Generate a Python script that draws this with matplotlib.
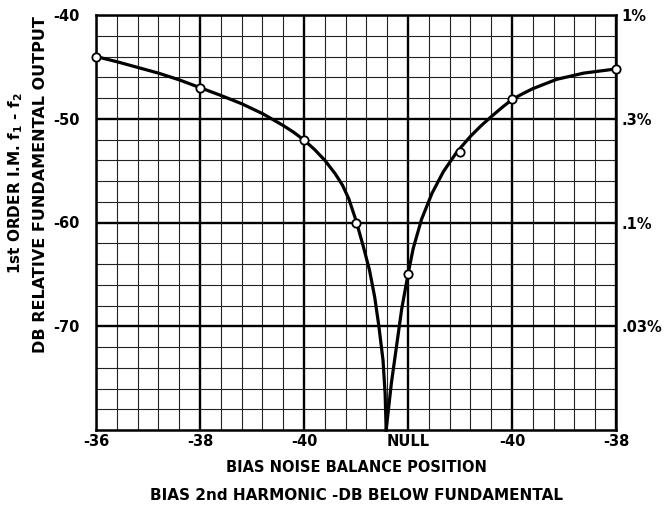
import matplotlib.pyplot as plt
import numpy as np

# x positions: 0..5 correspond to the labelled balance positions
tick_labels = ['-36', '-38', '-40', 'NULL', '-40', '-38']
left_labels = ['-40', '-50', '-60', '-70']
right_labels = ['1%', '.3%', '.1%', '.03%']
levels = [-40, -50, -60, -70]

# measured points (circles)
pts_x = [0, 1, 2, 2.5, 3, 3.5, 4, 5]
pts_y = [-44, -47, -52, -60, -65, -53.2, -48.1, -45.2]

# curve
curve_left_x = [0, 0.2, 0.4, 0.6, 0.8, 1.0, 1.2, 1.4, 1.6, 1.8, 1.9, 2.0, 2.1, 2.2,
                2.3, 2.37, 2.43, 2.5, 2.57, 2.63, 2.68, 2.72, 2.76, 2.78, 2.79]
curve_left_y = [-44, -44.5, -45.05, -45.6, -46.25, -47, -47.75, -48.55, -49.5, -50.65, -51.3,
                -52.05, -52.95, -54.0, -55.3, -56.4, -57.7, -59.8, -62.3, -64.6, -67.2, -70.0,
                -73.3, -76.5, -80]
curve_right_x = [2.79, 2.84, 2.89, 2.94, 3.0, 3.05, 3.13, 3.23, 3.34, 3.47, 3.6, 3.7, 3.8,
                 3.9, 4.0, 4.1, 4.2, 4.43, 4.69, 5.0]
curve_right_y = [-80, -75.5, -71.9, -68.3, -65, -62.5, -59.7, -57.2, -55.1, -53.2, -51.7, -50.7,
                 -49.8, -48.95, -48.15, -47.6, -47.1, -46.2, -45.6, -45.2]

fig = plt.figure(figsize=(6.64, 5.09), dpi=100)
ax = fig.add_axes([96 / 664, 1 - 430 / 509, 520 / 664, 415 / 509])

ax.set_xlim(0, 5)
ax.set_ylim(-80, -40)
ax.set_xticks(range(6))
ax.set_xticks(np.arange(0, 5.01, 0.2), minor=True)
ax.set_yticks(levels)
ax.set_yticks(np.arange(-80, -39, 2), minor=True)
ax.grid(which='minor', color='#222222', lw=0.8)
ax.grid(which='major', color='black', lw=1.7)
ax.set_axisbelow(True)
ax.tick_params(which='both', length=0)
ax.set_xticklabels(tick_labels, fontsize=10.5, fontweight='bold')
ax.set_yticklabels(left_labels, fontsize=10.5, fontweight='bold')
ax.tick_params(axis='x', pad=3)
ax.tick_params(axis='y', pad=12)
for s in ax.spines.values():
    s.set_linewidth(1.8)

ax.plot(curve_left_x, curve_left_y, color='black', lw=2.3, solid_joinstyle='round', clip_on=False)
ax.plot(curve_right_x, curve_right_y, color='black', lw=2.3, solid_joinstyle='round', clip_on=False)
ax.plot(pts_x, pts_y, 'o', ms=6, mfc='white', mec='black', mew=1.3, clip_on=False, zorder=5)

ax2 = ax.twinx()
ax2.set_ylim(-80, -40)
ax2.set_yticks(levels)
ax2.set_yticklabels(right_labels, fontsize=10.5, fontweight='bold')
ax2.tick_params(length=0, pad=4)
for s in ax2.spines.values():
    s.set_visible(False)

cx = 356 / 664
fig.text(cx, 1 - 467 / 509, 'BIAS NOISE BALANCE POSITION',
         fontsize=10.5, fontweight='bold', ha='center', va='center')
fig.text(cx, 1 - 495 / 509, 'BIAS 2nd HARMONIC -DB BELOW FUNDAMENTAL',
         fontsize=11, fontweight='bold', ha='center', va='center')
fig.text(16 / 664, 1 - 183 / 509, '1st ORDER I.M. $\\mathbf{f_1}$ - $\\mathbf{f_2}$',
         fontsize=11, fontweight='bold', rotation=90, ha='center', va='center')
fig.text(41 / 664, 1 - 185 / 509, 'DB RELATIVE FUNDAMENTAL OUTPUT',
         fontsize=11.5, fontweight='bold', rotation=90, ha='center', va='center')

fig.savefig('out.png', dpi=100)
